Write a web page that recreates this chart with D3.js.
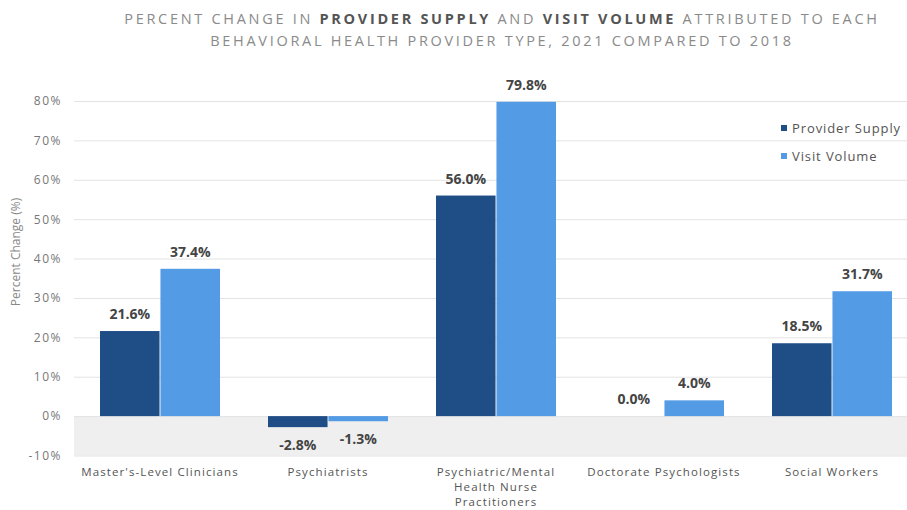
<!DOCTYPE html>
<html>
<head>
<meta charset="utf-8">
<script src="https://cdn.jsdelivr.net/npm/d3@7"></script>
<style>
  body { margin: 0; background: #fff; }
  svg { display: block; font-family: "Open Sans", Lato, sans-serif; }
</style>
</head>
<body>
<svg class="main-canvas" width="907" height="510"></svg>
<script>
"use strict";

const categories = [
  ["Master's-Level Clinicians"],
  ["Psychiatrists"],
  ["Psychiatric/Mental", "Health Nurse", "Practitioners"],
  ["Doctorate Psychologists"],
  ["Social Workers"]
];
const seriesNames = ["Provider Supply", "Visit Volume"];
const providerSupply = [21.6, -2.8, 56.0, 0.0, 18.5];
const visitVolume = [37.4, -1.3, 79.8, 4.0, 31.7];
const yTicks = [-10, 0, 10, 20, 30, 40, 50, 60, 70, 80];
const colors = ["#1f4e87", "#539be5"];

let svg = d3.select('.main-canvas');

const catKeys = categories.map(c => c.join(' '));
const x0 = d3.scaleBand()
             .domain(catKeys)
             .range([76, 916])
             .paddingInner(0.2857)
             .paddingOuter(0.1428);
const x1 = d3.scaleBand()
             .domain(seriesNames)
             .range([0, x0.bandwidth()])
             .paddingInner(0.015);
const y = d3.scaleLinear()
            .domain([-10, 80])
            .range([455.5, 101]);

// Title, with the two series names in bold
const title = svg.append('text')
                 .attr('text-anchor', 'middle')
                 .attr('font-size', 14.5)
                 .attr('letter-spacing', 2.7)
                 .attr('fill', '#8a8a8a');
const line1 = title.append('tspan').attr('x', 502).attr('y', 24);
line1.append('tspan').text('PERCENT CHANGE IN ');
line1.append('tspan').text('PROVIDER SUPPLY').attr('font-weight', 'bold').attr('fill', '#555');
line1.append('tspan').text(' AND ');
line1.append('tspan').text('VISIT VOLUME').attr('font-weight', 'bold').attr('fill', '#555');
line1.append('tspan').text(' ATTRIBUTED TO EACH');
title.append('tspan').attr('x', 502).attr('y', 46)
     .text('BEHAVIORAL HEALTH PROVIDER TYPE, 2021 COMPARED TO 2018');

// Gray band below zero
svg.append('rect')
   .attr('x', 74)
   .attr('width', 907 - 74)
   .attr('y', y(0))
   .attr('height', y(-10) - y(0))
   .attr('fill', '#efefef');

// Gridlines + tick labels
const yAxis = svg.append('g')
                 .attr('transform', 'translate(74,0)')
                 .call(d3.axisLeft(y)
                         .tickValues(yTicks)
                         .tickSize(-(907 - 74))
                         .tickFormat(d => d + '%')
                         .tickPadding(12));
yAxis.select('.domain').remove();
yAxis.selectAll('.tick line').attr('stroke', '#e3e3e3');
yAxis.selectAll('.tick text')
     .attr('fill', '#777')
     .attr('font-size', 12)
     .attr('letter-spacing', 1.5)
     .attr('font-family', '"Open Sans", Lato, sans-serif');

svg.append('text')
   .attr('transform', 'translate(20,252) rotate(-90)')
   .attr('text-anchor', 'middle')
   .attr('font-size', 12)
   .attr('fill', '#888')
   .text('Percent Change (%)');

// Bars
const rows = catKeys.map((k, i) => ({
  key: k,
  values: [providerSupply[i], visitVolume[i]]
}));

const groups = svg.append('g')
                  .selectAll('g')
                  .data(rows)
                  .enter()
                  .append('g')
                  .attr('transform', d => `translate(${x0(d.key)},0)`);

groups.selectAll('rect')
      .data(d => d.values.map((v, j) => ({ series: seriesNames[j], value: v, j: j })))
      .enter()
      .append('rect')
      .attr('x', d => x1(d.series))
      .attr('width', x1.bandwidth())
      .attr('y', d => y(Math.max(0, d.value)))
      .attr('height', d => Math.abs(y(d.value) - y(0)))
      .attr('fill', d => colors[d.j]);

groups.selectAll('text')
      .data(d => d.values.map((v, j) => ({ series: seriesNames[j], value: v })))
      .enter()
      .append('text')
      .attr('x', d => x1(d.series) + x1.bandwidth() / 2)
      .attr('y', d => d.value < 0 ? y(d.value) + 23 : y(d.value) - 12)
      .attr('text-anchor', 'middle')
      .attr('font-size', 14)
      .attr('font-weight', 'bold')
      .attr('fill', '#444')
      .text(d => d.value.toFixed(1) + '%');

// Category labels
const catLabels = svg.append('g')
                     .selectAll('text')
                     .data(categories)
                     .enter()
                     .append('text')
                     .attr('text-anchor', 'middle')
                     .attr('font-size', 11.5)
                     .attr('letter-spacing', 1.1)
                     .attr('fill', '#555');
catLabels.selectAll('tspan')
         .data((d, i) => d.map(line => ({ line: line, key: catKeys[i] })))
         .enter()
         .append('tspan')
         .attr('x', d => x0(d.key) + x0.bandwidth() / 2)
         .attr('y', (d, i) => 476 + i * 15)
         .text(d => d.line);

// Legend
const legend = svg.append('g')
                  .selectAll('g')
                  .data(seriesNames)
                  .enter()
                  .append('g')
                  .attr('transform', (d, i) => `translate(781,${128 + i * 28})`);
legend.append('rect')
      .attr('x', 0)
      .attr('y', -3)
      .attr('width', 6)
      .attr('height', 6)
      .attr('fill', (d, i) => colors[i]);
legend.append('text')
      .attr('x', 11)
      .attr('y', 4.5)
      .attr('font-size', 13)
      .attr('letter-spacing', 0.9)
      .attr('fill', '#555')
      .text(d => d);
</script>
</body>
</html>
